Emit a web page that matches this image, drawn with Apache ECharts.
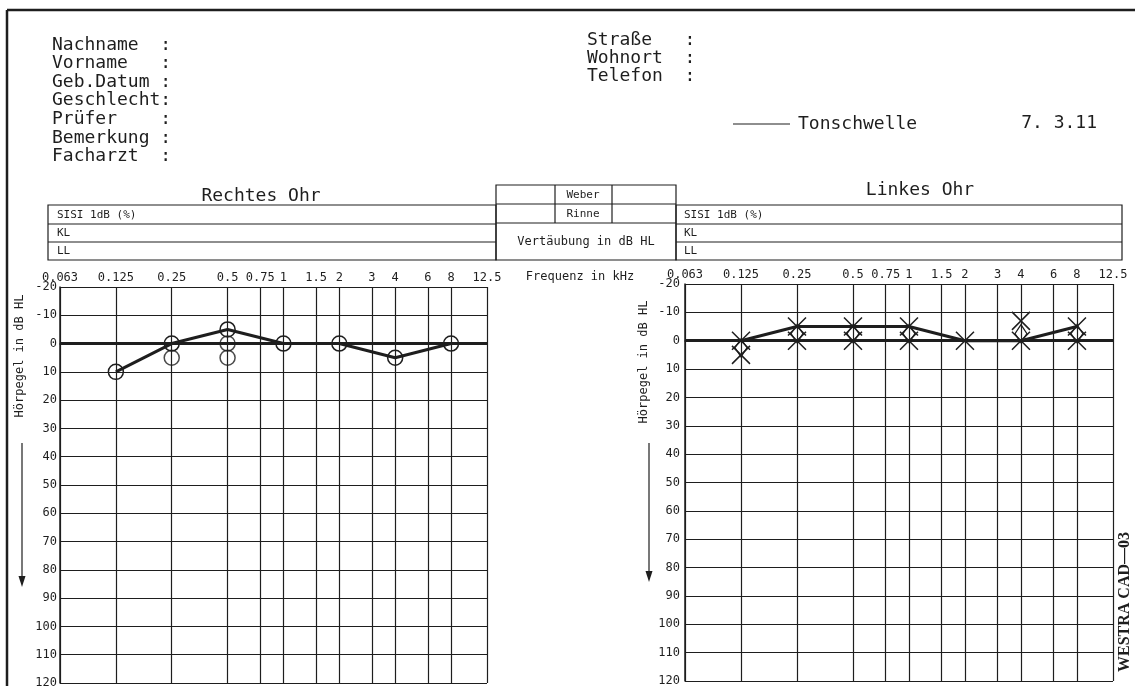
<!DOCTYPE html>
<html>
<head>
<meta charset="utf-8">
<script src="https://cdn.jsdelivr.net/npm/echarts@6/dist/echarts.min.js"></script>
<style>
  html, body { margin: 0; padding: 0; background: #fff; }
  #main { width: 1135px; height: 686px; }
</style>
</head>
<body>
<div id="main"></div>
<script>
// frequency grid (kHz) and labels
const freqTicks = [0.0625, 0.125, 0.25, 0.5, 0.75, 1, 1.5, 2, 3, 4, 6, 8, 12.5];
const freqLabels = ['0.063', '0.125', '0.25', '0.5', '0.75', '1', '1.5', '2', '3', '4', '6', '8', '12.5'];

// Rechtes Ohr (circles)
const rightFreq = [0.125, 0.25, 0.5, 1, 2, 4, 8];
const rightDb = [10, 0, -5, 0, 0, 5, 0];
const rightExtraFreq = [0.25, 0.5, 0.5];
const rightExtraDb = [5, 0, 5];

// Linkes Ohr (crosses + diamonds)
const leftFreq = [0.125, 0.25, 0.5, 1, 2, 4, 8];
const leftDb = [0, -5, -5, -5, 0, 0, -5];
const leftExtraFreq = [0.125, 0.25, 0.5, 1, 4, 8];
const leftExtraDb = [5, 0, 0, 0, -7, 0];
const leftDiamondFreq = [0.125, 0.25, 0.5, 1, 4, 8];
const leftDiamondDb = [2.5, -2.5, -2.5, -2.5, -2.5, -2.5];

const headerLeft = ['Nachname  :', 'Vorname   :', 'Geb.Datum :', 'Geschlecht:', 'Prüfer    :', 'Bemerkung :', 'Facharzt  :'];
const headerRight = ['Straße   :', 'Wohnort  :', 'Telefon  :'];

const INK = '#1e1e1e';
const MONO = '"DejaVu Sans Mono", monospace';
const CROSS = 'path://M0,0L10,10M10,0L0,10';
const DIAMOND = 'path://M5,0L10,8L5,16L0,8Z';

function pairs(xs, ys) {
    return xs.map(function (x, i) { return [x, ys[i]]; });
}

function freqLabel(v) {
    let best = 0;
    for (let i = 0; i < freqTicks.length; i++) {
        if (Math.abs(freqTicks[i] - v) < Math.abs(freqTicks[best] - v)) best = i;
    }
    return freqLabels[best];
}

function makeX(gridIndex) {
    return {
        type: 'log',
        logBase: 2,
        gridIndex: gridIndex,
        min: 0.0625,
        max: 12.5,
        position: 'top',
        axisLine: { show: true, lineStyle: { color: INK, width: 1.5 } },
        axisTick: { show: false, customValues: freqTicks },
        axisLabel: {
            customValues: freqTicks,
            formatter: freqLabel,
            margin: 3,
            color: INK,
            fontFamily: MONO,
            fontSize: 12
        },
        splitLine: { show: true, lineStyle: { color: INK, width: 1.2 } }
    };
}

function makeY(gridIndex, margin) {
    return {
        type: 'value',
        gridIndex: gridIndex,
        inverse: true,
        min: -20,
        max: 120,
        interval: 10,
        axisLine: { show: true, lineStyle: { color: INK, width: 1.5 } },
        axisTick: { show: false },
        axisLabel: { margin: margin, color: INK, fontFamily: MONO, fontSize: 12 },
        splitLine: { show: true, lineStyle: { color: INK, width: 1.2 } }
    };
}

function zeroLine() {
    return {
        silent: true,
        symbol: 'none',
        label: { show: false },
        lineStyle: { color: INK, width: 3, type: 'solid' },
        data: [{ yAxis: 0 }]
    };
}

// drawing helpers for the form around the charts
function line(x1, y1, x2, y2, w) {
    return { type: 'line', shape: { x1: x1, y1: y1, x2: x2, y2: y2 }, style: { stroke: INK, lineWidth: w || 1.2 } };
}
function box(x1, y1, x2, y2) {
    return { type: 'rect', shape: { x: x1, y: y1, width: x2 - x1, height: y2 - y1 }, style: { fill: 'none', stroke: INK, lineWidth: 1.2 } };
}
function text(str, x, y, size, align, extra) {
    const t = {
        type: 'text', x: x, y: y,
        style: { text: str, fill: INK, font: size + 'px ' + MONO, textAlign: align || 'left', textVerticalAlign: 'middle' }
    };
    return Object.assign(t, extra || {});
}
function arrow(x, y1, y2) {
    return [
        line(x, y1, x, y2 - 8, 1.2),
        { type: 'polygon', shape: { points: [[x - 3.5, y2 - 11], [x + 3.5, y2 - 11], [x, y2]] }, style: { fill: INK } }
    ];
}

const graphics = [];
// page frame
graphics.push(line(7, 10, 1135, 10, 2.5));
graphics.push(line(7, 10, 7, 686, 2.5));
// header
headerLeft.forEach(function (s, i) { graphics.push(text(s, 52, 45 + i * 18.6, 18)); });
headerRight.forEach(function (s, i) { graphics.push(text(s, 587, 40 + i * 18, 18)); });
graphics.push(line(733, 124, 790, 124, 1.2));
graphics.push(text('Tonschwelle', 798, 124, 18));
graphics.push(text('7. 3.11', 1097, 123, 18, 'right'));
// tables
graphics.push(text('Rechtes Ohr', 261, 196, 18, 'center'));
graphics.push(text('Linkes Ohr', 920, 190, 18, 'center'));
graphics.push(box(48, 205, 496, 260), line(48, 224, 496, 224), line(48, 242, 496, 242));
graphics.push(box(676, 205, 1122, 260), line(676, 224, 1122, 224), line(676, 242, 1122, 242));
graphics.push(box(496, 185, 676, 260), line(496, 204, 676, 204), line(496, 223, 676, 223));
graphics.push(line(555, 185, 555, 223), line(612, 185, 612, 223));
[[57, 'SISI 1dB (%)'], [684, 'SISI 1dB (%)']].forEach(function (p) {
    graphics.push(text(p[1], p[0], 215, 11), text('KL', p[0], 233, 11), text('LL', p[0], 251, 11));
});
graphics.push(text('Weber', 583, 195, 11, 'center'), text('Rinne', 583, 214, 11, 'center'));
graphics.push(text('Vertäubung in dB HL', 586, 242, 12, 'center'));
graphics.push(text('Frequenz in kHz', 580, 277, 12, 'center'));
// axis names + arrows
graphics.push(text('Hörpegel in dB HL', 20, 356, 12, 'center', { rotation: Math.PI / 2 }));
graphics.push(text('Hörpegel in dB HL', 644, 362, 12, 'center', { rotation: Math.PI / 2 }));
arrow(22, 443, 587).forEach(function (g) { graphics.push(g); });
arrow(649, 443, 582).forEach(function (g) { graphics.push(g); });
graphics.push({
    type: 'text', x: 1125, y: 602, rotation: Math.PI / 2,
    style: { text: 'WESTRA CAD\u201403', fill: INK, font: 'bold 16px "Liberation Serif", serif', textAlign: 'center', textVerticalAlign: 'middle' }
});

const option = {
    backgroundColor: '#fff',
    animation: false,
    grid: [
        { left: 60, right: 648, top: 287, bottom: 3, outerBoundsMode: 'none' },
        { left: 685, right: 22, top: 284, bottom: 5, outerBoundsMode: 'none' }
    ],
    xAxis: [makeX(0), makeX(1)],
    yAxis: [makeY(0, 3), makeY(1, 5)],
    series: [
        {
            name: 'Rechtes Ohr',
            type: 'line',
            xAxisIndex: 0, yAxisIndex: 0,
            data: pairs(rightFreq, rightDb),
            symbol: 'circle',
            symbolSize: 15,
            lineStyle: { color: INK, width: 3 },
            itemStyle: { color: 'rgba(0,0,0,0)', borderColor: INK, borderWidth: 1.5 },
            markLine: zeroLine(),
            z: 5
        },
        {
            type: 'scatter',
            xAxisIndex: 0, yAxisIndex: 0,
            data: pairs(rightExtraFreq, rightExtraDb),
            symbol: 'circle',
            symbolSize: 15,
            itemStyle: { color: 'rgba(0,0,0,0)', borderColor: INK, borderWidth: 1.5 },
            z: 5
        },
        {
            name: 'Linkes Ohr',
            type: 'line',
            xAxisIndex: 1, yAxisIndex: 1,
            data: pairs(leftFreq, leftDb),
            symbol: CROSS,
            symbolSize: 18,
            lineStyle: { color: INK, width: 3 },
            itemStyle: { color: 'rgba(0,0,0,0)', borderColor: INK, borderWidth: 1.5 },
            markLine: zeroLine(),
            z: 5
        },
        {
            type: 'scatter',
            xAxisIndex: 1, yAxisIndex: 1,
            data: pairs(leftExtraFreq, leftExtraDb),
            symbol: CROSS,
            symbolSize: 18,
            itemStyle: { color: 'rgba(0,0,0,0)', borderColor: INK, borderWidth: 1.5, opacity: 1 },
            z: 5
        },
        {
            type: 'scatter',
            xAxisIndex: 1, yAxisIndex: 1,
            data: pairs(leftDiamondFreq, leftDiamondDb),
            symbol: DIAMOND,
            symbolSize: [12, 18],
            symbolKeepAspect: false,
            itemStyle: { color: 'rgba(0,0,0,0)', borderColor: INK, borderWidth: 1.3, opacity: 1 },
            z: 6
        }
    ],
    graphic: graphics
};

const chart = echarts.init(document.getElementById('main'));
chart.setOption(option);
</script>
</body>
</html>
